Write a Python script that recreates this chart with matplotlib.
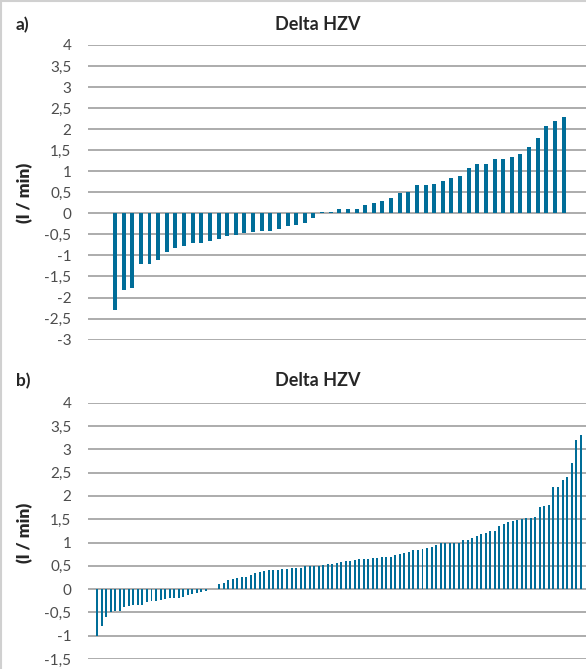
import matplotlib.pyplot as plt
from matplotlib.lines import Line2D
import numpy as np

plt.rcParams["font.family"] = ["Lato", "DejaVu Sans"]

# a) sorted Delta HZV values (l/min)
delta_a = [-2.30, -1.83, -1.77, -1.20, -1.20, -1.10, -0.91, -0.82, -0.77, -0.70,
           -0.70, -0.65, -0.60, -0.53, -0.51, -0.46, -0.44, -0.41, -0.41, -0.37,
           -0.29, -0.27, -0.22, -0.10, 0.04, 0.04, 0.10, 0.10, 0.10, 0.20,
           0.25, 0.29, 0.37, 0.48, 0.51, 0.67, 0.67, 0.70, 0.77, 0.84,
           0.89, 1.08, 1.17, 1.17, 1.29, 1.29, 1.34, 1.41, 1.58, 1.79,
           2.08, 2.20, 2.29]

# b) sorted Delta HZV values (l/min)
delta_b = [-1.00, -0.80, -0.59, -0.49, -0.47, -0.46, -0.38, -0.36, -0.35, -0.34,
           -0.34, -0.28, -0.26, -0.25, -0.23, -0.22, -0.20, -0.19, -0.19, -0.17,
           -0.12, -0.11, -0.09, -0.07, -0.04, 0.0, 0.0,
           0.10, 0.14, 0.20, 0.22, 0.24, 0.25, 0.27, 0.31, 0.34, 0.36,
           0.38, 0.40, 0.40, 0.42, 0.44, 0.44, 0.45, 0.45, 0.46, 0.49,
           0.50, 0.50, 0.50, 0.51, 0.53,
           0.54, 0.56, 0.59, 0.60, 0.61, 0.63, 0.64, 0.64, 0.65, 0.66,
           0.67, 0.69, 0.69, 0.69, 0.73, 0.76, 0.78, 0.80, 0.83, 0.84,
           0.86, 0.88, 0.90, 0.95, 1.00, 1.00, 1.00,
           1.00, 1.00, 1.05, 1.05, 1.10, 1.15, 1.19, 1.21, 1.24, 1.25,
           1.35, 1.40, 1.43, 1.46, 1.49, 1.51, 1.52, 1.52, 1.55, 1.77,
           1.78, 1.80, 2.20, 2.20, 2.35, 2.40, 2.70, 3.20, 3.30]

ticks_a = np.arange(-3, 4.01, 0.5)
ticks_b = np.arange(-1.5, 4.01, 0.5)

bar_col = "#006d98"
grid_col = "#a6a6a6"
lab_col = "#4d4d4d"

W, H = 586, 669
fig = plt.figure(figsize=(W / 100, H / 100), dpi=100)


def fmt(v):
    s = ("%g" % v).replace(".", ",")
    return "0" if s in ("-0", "0") else s


def panel(rect, vals, ticks, xlim, width, letter, title_y, letter_y, ylab_y):
    ax = fig.add_axes(rect)
    x = np.arange(len(vals))
    ax.bar(x, vals, width=width, color=bar_col, lw=0, zorder=3)
    ax.set_xlim(*xlim)
    ax.set_ylim(ticks[0], ticks[-1])
    ax.set_yticks(ticks)
    ax.set_yticklabels([fmt(t) for t in ticks], fontsize=11, color=lab_col)
    ax.set_xticks([])
    ax.tick_params(axis="y", length=0, pad=12)
    for sp in ax.spines.values():
        sp.set_visible(False)
    ax.grid(axis="y", color=grid_col, lw=1.3, zorder=0)
    fig.text(318 / W, 1 - title_y / H, "Delta HZV", ha="center", va="center",
             fontsize=13, fontweight="bold", color="#262626")
    fig.text(16 / W, 1 - letter_y / H, letter, ha="left", va="center",
             fontsize=12.5, fontweight="bold", color="#262626")
    fig.text(25 / W, 1 - ylab_y / H, "(l / min)", ha="center", va="center",
             rotation=90, fontsize=12.5, fontweight="heavy", color="#262626")
    return ax


panel([88 / W, 1 - 339.6 / H, 1 - 88 / W, (339.6 - 45) / H], delta_a, ticks_a,
      (-3.13, 54.6), 0.46, "a)", 24, 25, 193)
panel([88 / W, 1 - 659 / H, 1 - 88 / W, (659 - 402.7) / H], delta_b, ticks_b,
      (-2.06, 108.2), 0.44, "b)", 381, 381, 533)

# chart border remnants on left and top
fig.add_artist(Line2D([0.001, 0.001], [0, 1], color="#d0d0d0", lw=1.5,
                      transform=fig.transFigure))
fig.add_artist(Line2D([0, 1], [0.999, 0.999], color="#d0d0d0", lw=1.5,
                      transform=fig.transFigure))

fig.savefig("out.png", dpi=100, facecolor="white")
